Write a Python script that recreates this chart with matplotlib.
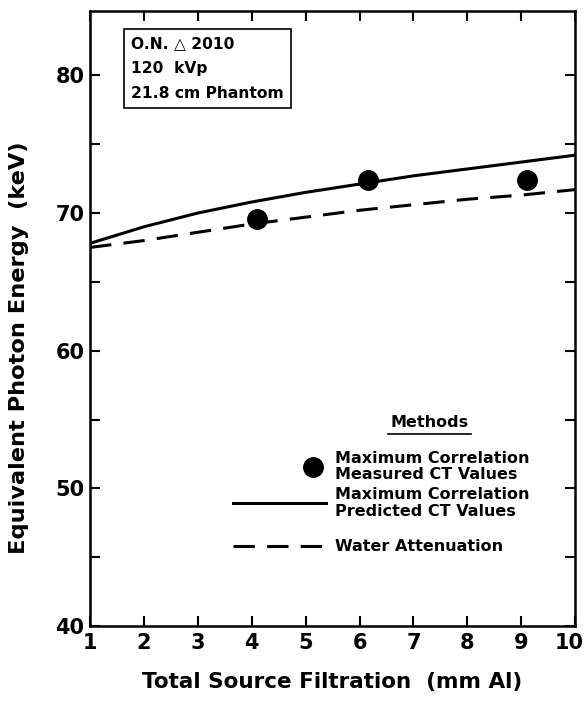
import matplotlib.pyplot as plt
from matplotlib.lines import Line2D
from matplotlib.transforms import ScaledTranslation
import numpy as np

plt.rcParams['font.family'] = ['DejaVu Sans']
plt.rcParams['font.weight'] = 'bold'

# data
filtration = np.array([1, 2, 3, 4, 5, 6, 7, 8, 9, 10])
predicted = np.array([67.8, 69.0, 70.0, 70.8, 71.5, 72.1, 72.7, 73.2, 73.7, 74.2])
water = np.array([67.5, 68.0, 68.6, 69.2, 69.7, 70.2, 70.6, 71.0, 71.3, 71.7])
meas_x = np.array([4.1, 6.15, 9.1])
meas_y = np.array([69.6, 72.4, 72.4])

box_lines = ['O.N. \u25B3 2010', '120  kVp', '21.8 cm Phantom']

fig = plt.figure(figsize=(5.85, 7.09), dpi=100)
ax = fig.add_axes([0.154, 0.117, 0.829, 0.868])

ax.plot(filtration, predicted, color='black', lw=2.2)
ax.plot(filtration, water, color='black', lw=2.2, dashes=(7, 4))
ax.plot(meas_x, meas_y, 'o', color='black', ms=14)

ax.set_xlim(1, 10)
ax.set_ylim(40, 84.7)
ax.set_xticks(np.arange(1, 11))
ax.set_yticks([40, 50, 60, 70, 80])
ax.set_yticks([45, 55, 65, 75], minor=True)
ax.tick_params(which='both', direction='in', length=7, width=1.5,
               top=True, right=True, labelsize=15)
ax.tick_params(axis='x', pad=5)
ax.tick_params(axis='y', pad=4)
for lab in ax.get_xticklabels() + ax.get_yticklabels():
    lab.set_fontweight('bold')
# last x label sits a little left of its tick, as in the original
last = ax.get_xticklabels()[-1]
last.set_transform(last.get_transform() + ScaledTranslation(-0.06, 0, fig.dpi_scale_trans))
for s in ax.spines.values():
    s.set_linewidth(1.8)

ax.set_xlabel('Total Source Filtration  (mm Al)', fontsize=15.5, fontweight='bold')
ax.set_ylabel('Equivalent Photon Energy  (keV)', fontsize=16.2, fontweight='bold')
ax.xaxis.set_label_coords(0.499, -0.074)
ax.yaxis.set_label_coords(-0.126, 0.452)

# info box
ax.text(0.084, 0.958, '\n'.join(box_lines), transform=ax.transAxes, fontsize=11.2,
        fontweight='bold', va='top', ha='left', linespacing=1.8,
        bbox=dict(boxstyle='square,pad=0.45', fc='white', ec='black', lw=1.2))

# legend drawn by hand
tr = ax.transAxes
ax.text(0.70, 0.33, 'Methods', transform=tr, ha='center', va='center', fontsize=11.5, fontweight='bold')
ax.add_line(Line2D([0.615, 0.785], [0.312, 0.312], transform=tr, color='black', lw=1.2))
ax.add_line(Line2D([0.46], [0.259], transform=tr, marker='o', color='black', ms=14))
ax.text(0.505, 0.259, 'Maximum Correlation\nMeasured CT Values', transform=tr, ha='left',
        va='center', fontsize=11.5, fontweight='bold', linespacing=1.12)
ax.add_line(Line2D([0.295, 0.487], [0.2, 0.2], transform=tr, color='black', lw=2.2))
ax.text(0.505, 0.2, 'Maximum Correlation\nPredicted CT Values', transform=tr, ha='left',
        va='center', fontsize=11.5, fontweight='bold', linespacing=1.12)
ax.add_line(Line2D([0.295, 0.487], [0.13, 0.13], transform=tr, color='black', lw=2.2, dashes=(7, 4)))
ax.text(0.505, 0.13, 'Water Attenuation', transform=tr, ha='left',
        va='center', fontsize=11.5, fontweight='bold')

fig.savefig('out.png', dpi=100)
